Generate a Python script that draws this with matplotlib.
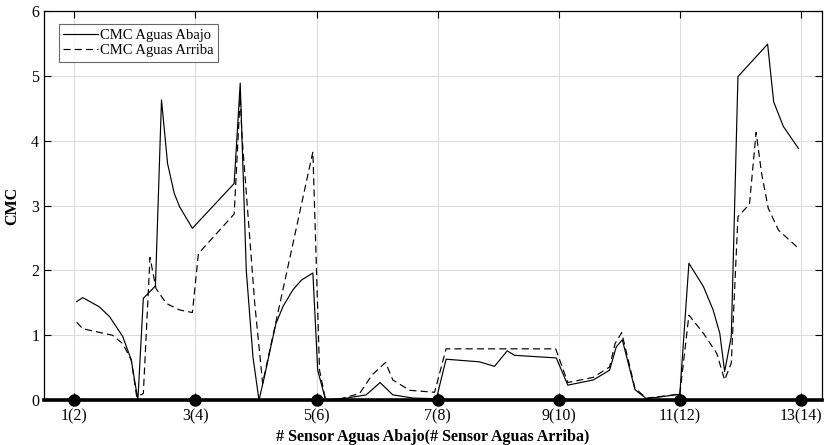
import numpy as np
import matplotlib.pyplot as plt

plt.rcParams['font.family'] = ['Liberation Serif', 'DejaVu Serif']

# CMC aguas abajo (solid)
x_abajo = [1.04, 1.14, 1.41, 1.58, 1.80, 1.94, 2.05, 2.14, 2.34, 2.44, 2.54, 2.65, 2.74, 2.95,
           3.64, 3.74, 3.84, 3.95, 4.05, 4.14, 4.24, 4.33, 4.45, 4.61, 4.75, 4.94, 5.02, 5.15,
           5.5, 5.82, 6.05, 6.26, 6.6, 6.98, 7.14, 7.69, 7.94, 8.15, 8.27, 8.96, 9.15, 9.57,
           9.84, 9.95, 10.05, 10.26, 10.45, 11.0, 11.15, 11.39, 11.55, 11.66, 11.74, 11.85,
           11.96, 12.45, 12.55, 12.71, 12.96]
y_abajo = [1.52, 1.58, 1.44, 1.29, 0.98, 0.62, 0.0, 1.57, 1.76, 4.63, 3.65, 3.19, 2.98, 2.65,
           3.34, 4.89, 2.0, 0.67, 0.0, 0.36, 0.80, 1.18, 1.45, 1.70, 1.85, 1.96, 0.46, 0.0,
           0.03, 0.08, 0.27, 0.08, 0.03, 0.02, 0.63, 0.59, 0.52, 0.76, 0.69, 0.65, 0.23, 0.31,
           0.46, 0.82, 0.93, 0.16, 0.02, 0.09, 2.11, 1.75, 1.39, 1.03, 0.44, 0.98,
           4.99, 5.49, 4.60, 4.22, 3.88]

# CMC aguas arriba (dashed)
x_arriba = [1.04, 1.14, 1.63, 1.80, 1.94, 2.03, 2.14, 2.25, 2.35, 2.52, 2.74, 2.95, 3.05, 3.64,
            3.74, 3.77, 3.98, 4.11, 4.94, 5.05, 5.15, 5.4, 5.71, 5.92, 6.14, 6.26, 6.54, 6.95,
            7.14, 8.95, 9.15, 9.57, 9.84, 9.93, 10.04, 10.26, 10.45, 11.0, 11.15, 11.39, 11.61,
            11.74, 11.85, 11.96, 12.15, 12.26, 12.35, 12.46, 12.63, 12.96]
y_arriba = [1.20, 1.10, 1.0, 0.87, 0.62, 0.05, 0.10, 2.20, 1.72, 1.49, 1.39, 1.35, 2.26, 2.87,
            4.68, 4.06, 1.49, 0.26, 3.83, 0.46, 0.0, 0.02, 0.10, 0.39, 0.58, 0.31, 0.15, 0.12,
            0.79, 0.79, 0.27, 0.35, 0.51, 0.87, 1.04, 0.18, 0.03, 0.09, 1.31, 1.03, 0.72,
            0.31, 0.57, 2.83, 3.02, 4.13, 3.50, 2.96, 2.62, 2.34]

sensores = [1, 3, 5, 7, 9, 11, 13]
etiquetas = ['1(2)', '3(4)', '5(6)', '7(8)', '9(10)', '11(12)', '13(14)']
xlim = (0.5, 13.35)

fig = plt.figure(figsize=(8.26, 4.45), dpi=100)
ax = fig.add_axes([0.0533, 0.101, 0.942, 0.874])

ax.plot(x_abajo, y_abajo, 'k-', lw=0.85, label='CMC Aguas Abajo')
ax.plot(x_arriba, y_arriba, 'k--', lw=0.85, dashes=(6, 3.5), label='CMC Aguas Arriba')
ax.plot(xlim, [0, 0], 'k-', lw=2.6, zorder=3, clip_on=False)
ax.plot(sensores, np.zeros(len(sensores)), 'ko', ms=8, zorder=4, clip_on=False)

ax.set_xlim(xlim)
ax.set_ylim(0, 6)
ax.set_xticks(sensores)
ax.set_xticklabels(etiquetas)
ax.set_yticks(range(7))
ax.tick_params(direction='in', top=True, right=True, length=5, labelsize=11.5, width=0.8)
ax.tick_params(axis='x', pad=6)
ax.grid(True, color='#dcdcdc', lw=0.8)
for s in ax.spines.values():
    s.set_linewidth(0.9)

ax.set_xlabel('# Sensor Aguas Abajo(# Sensor Aguas Arriba)', fontweight='bold', fontsize=11.5, labelpad=3)
ax.set_ylabel('CMC', fontweight='bold', fontsize=11.5, labelpad=8)

leg = ax.legend(loc='upper left', fontsize=10.5, frameon=True, fancybox=False, edgecolor='#444444',
                borderpad=0.3, handlelength=2.4, handletextpad=0.1, labelspacing=0.15,
                bbox_to_anchor=(0.01, 0.985))
leg.get_frame().set_linewidth(0.8)

plt.savefig('out.png', dpi=100)
plt.close()
